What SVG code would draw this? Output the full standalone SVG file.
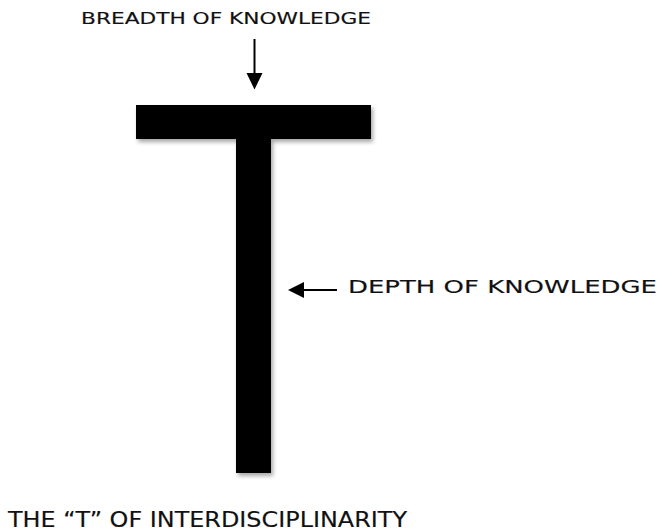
<svg xmlns="http://www.w3.org/2000/svg" width="659" height="532" viewBox="0 0 659 532">
<style>
.lbl{font-family:"DejaVu Sans","Liberation Sans",Arial,sans-serif;fill:#111;font-weight:normal;stroke:#111;stroke-width:0.15}
</style>
<defs>
<filter id="sh" x="-20%" y="-20%" width="140%" height="140%">
<feGaussianBlur in="SourceAlpha" stdDeviation="2"/>
<feOffset dx="2" dy="3" result="b"/>
<feComponentTransfer><feFuncA type="linear" slope="0.35"/></feComponentTransfer>
<feMerge><feMergeNode/><feMergeNode in="SourceGraphic"/></feMerge>
</filter>
</defs>
<rect width="659" height="532" fill="#fff"/>
<g id="T" filter="url(#sh)">
<rect x="136" y="105" width="235" height="34" fill="#000"/>
<rect x="236" y="105" width="35" height="368" fill="#000"/>
</g>
<g id="connectors">
<line x1="254.5" y1="39" x2="254.5" y2="74" stroke="#000" stroke-width="2"/>
<path d="M246.5,73 L262.5,73 L254.5,89.5 z" fill="#000"/>
<line x1="303" y1="290" x2="337" y2="290" stroke="#000" stroke-width="2"/>
<path d="M288,290 L304,282 L304,298 z" fill="#000"/>
</g>
<g id="breadth"><text class="lbl" x="81" y="23.5" font-size="16" textLength="290" lengthAdjust="spacingAndGlyphs">BREADTH OF KNOWLEDGE</text></g>
<g id="depth"><text class="lbl" x="348" y="292.5" font-size="18.5" textLength="309" lengthAdjust="spacingAndGlyphs">DEPTH OF KNOWLEDGE</text></g>
<g id="title"><text class="lbl" x="8" y="527" font-size="20.5" textLength="399" lengthAdjust="spacingAndGlyphs">THE “T” OF INTERDISCIPLINARITY</text></g>
</svg>
